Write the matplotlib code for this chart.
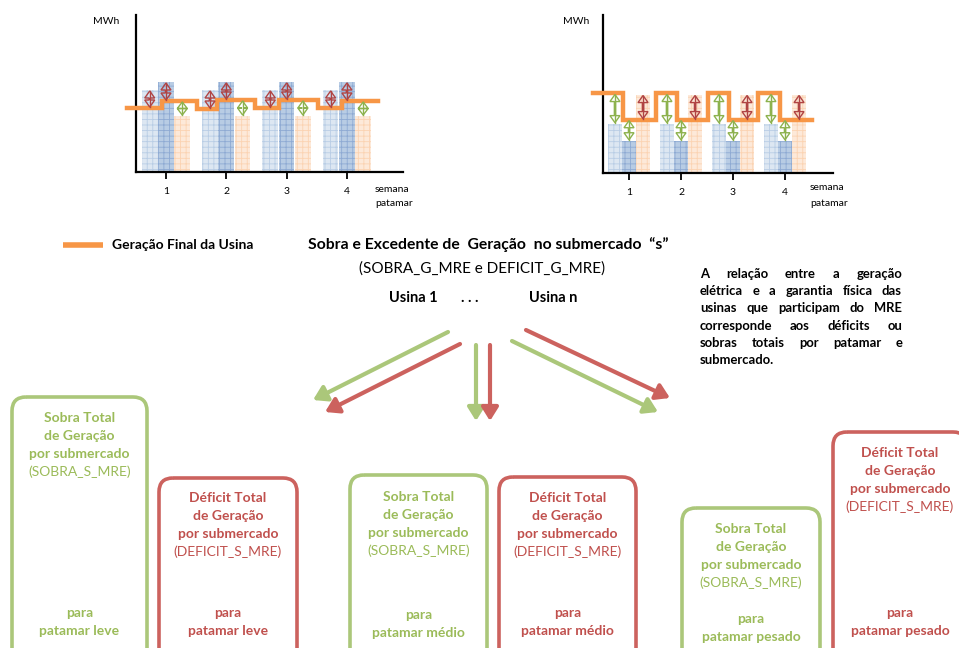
import matplotlib
matplotlib.use("Agg")
import matplotlib.pyplot as plt
from matplotlib.patches import FancyBboxPatch, FancyArrowPatch, Polygon

plt.rcParams["font.family"] = ["Lato", "DejaVu Sans"]
plt.rcParams["hatch.linewidth"] = 0.6

# ---------------------------------------------------------------------------
# Data (MWh axis in arbitrary units, 0 = x axis)
# ---------------------------------------------------------------------------
weeks = [1, 2, 3, 4]
week_labels = ["1", "2", "3", "4"]

# left chart: usina with generation above the physical guarantee
left_light = [82, 82, 82, 82]
left_dark = [90, 90, 90, 90]
left_orange = [56, 56, 56, 56]
left_line_first = [64, 63, 64, 64]      # level over the light bar
left_line_second = [71, 72, 72, 71]     # level over dark + orange bars
left_step_start = [-0.65, -0.48, -0.53, -0.48]
left_step_switch = [-0.07, -0.15, -0.13, -0.08]
left_step_end = [0.52, 0.47, 0.52, 0.52]

# right chart: usina with generation below the physical guarantee
right_light = [49, 49, 49, 49]
right_dark = [32, 32, 32, 32]
right_orange = [78, 78, 78, 78]
right_line_first = [79, 79, 79, 79]
right_line_second = [53, 53, 53, 53]
right_step_start = [-0.69, -0.48, -0.48, -0.52]
right_step_switch = [-0.12, -0.08, -0.08, -0.10]
right_step_end = [0.52, 0.52, 0.48, 0.52]

legend_label = "Geração Final da Usina"
title_line = "Sobra e Excedente de  Geração  no submercado  “s”"
subtitle_line = "(SOBRA_G_MRE e DEFICIT_G_MRE)"
usinas = ["Usina 1", ". . .", "Usina n"]

paragraph = [
    "A relação entre a geração",
    "elétrica e a garantia física das",
    "usinas que participam do MRE",
    "corresponde aos déficits ou",
    "sobras totais por patamar e",
    "submercado.",
]

box_kind = ["Sobra Total", "Déficit Total", "Sobra Total", "Déficit Total", "Sobra Total", "Déficit Total"]
box_code = ["(SOBRA_S_MRE)", "(DEFICIT_S_MRE)", "(SOBRA_S_MRE)", "(DEFICIT_S_MRE)", "(SOBRA_S_MRE)", "(DEFICIT_S_MRE)"]
box_patamar = ["patamar leve", "patamar leve", "patamar médio", "patamar médio", "patamar pesado", "patamar pesado"]

# ---------------------------------------------------------------------------
# Styles
# ---------------------------------------------------------------------------
ORANGE = "#f79646"
GREEN = "#9bbb59"
GREEN_BOX = "#abc77a"
RED = "#c0504d"
RED_BOX = "#cc625e"
ARR_RED = "#b04444"
ARR_GREEN = "#8db24e"
LIGHT = ("#dde7f2", "#b9cde5")
DARK = ("#b8cce4", "#8eaad3")
PEACH = ("#fde9d9", "#fbd3b2")

W, H = 959, 648
fig = plt.figure(figsize=(9.59, 6.48), dpi=100)
ov = fig.add_axes([0, 0, 1, 1])
ov.set_xlim(0, W)
ov.set_ylim(H, 0)
ov.axis("off")


def px_axes(x0, y0, x1, y1):
    return fig.add_axes([x0 / W, 1 - y1 / H, (x1 - x0) / W, (y1 - y0) / H])


def double_arrow(ax, x, y_a, y_b, color, ppu, hw_px=5, hl_px=7, inset=1):
    yt, yb = max(y_a, y_b) - inset, min(y_a, y_b) + inset
    hl = min(hl_px, (yt - yb) / 2)
    hw = hw_px / ppu
    sw = 0.6 / ppu
    pts = [(x, yt), (x + hw, yt - hl), (x + sw, yt - hl), (x + sw, yb + hl),
           (x + hw, yb + hl), (x, yb), (x - hw, yb + hl), (x - sw, yb + hl),
           (x - sw, yt - hl), (x - hw, yt - hl)]
    ax.add_patch(Polygon(pts, closed=True, fill=False, edgecolor=color, lw=1.0, zorder=5))
    ax.plot([x, x], [yb, yt], color=color, lw=1.0, zorder=5)


def draw_chart(ax, light, dark, orange, first, second, starts, switches, ends,
               ppu, arrow_colors):
    off = 0.27
    bw = 0.26
    ax.bar([w - off for w in weeks], light, bw, color=LIGHT[0], edgecolor=LIGHT[1], hatch="+++", lw=0, zorder=1)
    ax.bar(weeks, dark, bw, color=DARK[0], edgecolor=DARK[1], hatch="+++", lw=0, zorder=1)
    ax.bar([w + off for w in weeks], orange, bw, color=PEACH[0], edgecolor=PEACH[1], hatch="+++", lw=0, zorder=1)

    xs, ys = [], []
    for w, a, b, s, sw_, e in zip(weeks, first, second, starts, switches, ends):
        xs += [w + s, w + sw_, w + sw_, w + e]
        ys += [a, a, b, b]
    ax.plot(xs, ys, color=ORANGE, lw=3.2, solid_joinstyle="miter", clip_on=False, zorder=4)

    for i, w in enumerate(weeks):
        double_arrow(ax, w - off, light[i], first[i], arrow_colors[0], ppu)
        double_arrow(ax, w, dark[i], second[i], arrow_colors[1], ppu)
        double_arrow(ax, w + off, orange[i], second[i], arrow_colors[2], ppu)

    for side in ("top", "right"):
        ax.spines[side].set_visible(False)
    for side in ("left", "bottom"):
        ax.spines[side].set_linewidth(1.6)
    ax.set_yticks([])
    ax.set_xticks(weeks)
    ax.set_xticklabels(week_labels)
    ax.tick_params(axis="x", direction="out", length=5, width=1.3, labelsize=7.5, pad=6)
    ax.set_ylim(0, 157)
    ax.patch.set_alpha(0)


# left chart
axl = px_axes(136, 15, 403, 172)
axl.set_xlim(1 - 30 / 60.3, 1 + (403 - 166) / 60.3)
draw_chart(axl, left_light, left_dark, left_orange, left_line_first, left_line_second,
           left_step_start, left_step_switch, left_step_end, 60.3, (ARR_RED, ARR_RED, ARR_GREEN))

# right chart
axr = px_axes(603, 15, 833, 173)
axr.set_xlim(1 - 26 / 52, 1 + (833 - 629) / 52)
draw_chart(axr, right_light, right_dark, right_orange, right_line_first, right_line_second,
           right_step_start, right_step_switch, right_step_end, 52, (ARR_GREEN, ARR_GREEN, ARR_RED))

for x0, y0 in [(93, 22), (563, 22)]:
    ov.text(x0, y0, "MWh", fontsize=7.5, va="center", ha="left")
for x0, y0 in [(375, 189), (810, 188)]:
    ov.text(x0, y0, "semana", fontsize=7.5, va="center", ha="left")
    ov.text(x0, y0 + 15, "patamar", fontsize=7.5, va="center", ha="left")

# legend + titles
ov.plot([63, 103], [245, 245], color=ORANGE, lw=4, solid_capstyle="butt")
ov.text(112, 245, legend_label, fontsize=10, fontweight="bold", va="center", ha="left")
ov.text(488, 245, title_line, fontsize=11.3, fontweight="bold", va="center", ha="center")
ov.text(482, 269, subtitle_line, fontsize=11, va="center", ha="center")
for xc, label in zip([413, 470, 553], usinas):
    ov.text(xc, 298, label, fontsize=10.5, fontweight="bold", va="center", ha="center")

# justified paragraph
renderer = fig.canvas.get_renderer()
px0, px1, py0, pdy = 700, 902, 274, 17.2
for li, line in enumerate(paragraph):
    words = line.split()
    y = py0 + li * pdy
    texts = [ov.text(0, y, wd, fontsize=9.4, fontweight="bold", va="center", ha="left") for wd in words]
    widths = [t.get_window_extent(renderer).width for t in texts]
    if li == len(paragraph) - 1 or len(words) == 1:
        gap = 4
    else:
        gap = (px1 - px0 - sum(widths)) / (len(words) - 1)
    x = px0
    for t, wdt in zip(texts, widths):
        t.set_x(x)
        x += wdt + gap

# fan of arrows from the usinas to the totals
fan = [
    ((448, 332), (313, 400), GREEN_BOX),
    ((460, 344), (325, 412), RED_BOX),
    ((476, 345), (476, 421), GREEN_BOX),
    ((490, 345), (490, 421), RED_BOX),
    ((512, 341), (658, 412), GREEN_BOX),
    ((526, 330), (670, 398), RED_BOX),
]
for a, b, c in fan:
    ov.add_patch(FancyArrowPatch(a, b, arrowstyle="-|>,head_length=8,head_width=5",
                                 color=c, lw=3, shrinkA=0, shrinkB=0, mutation_scale=1))

# total boxes
box_rects = [(12, 397, 147), (159, 478, 297), (350, 475, 487),
             (499, 477, 636), (682, 508, 820), (833, 432, 967)]
box_first_y = [418, 498, 497, 498, 529, 453]
box_para_y = [613, 613, 615, 613, 619, 613]
for i, (x0, y0, x1) in enumerate(box_rects):
    is_green = box_kind[i].startswith("Sobra")
    edge = GREEN_BOX if is_green else RED_BOX
    tcol = GREEN if is_green else RED
    ov.add_patch(FancyBboxPatch((x0, y0), x1 - x0, 680 - y0,
                                boxstyle="round,pad=0,rounding_size=14",
                                fill=False, edgecolor=edge, lw=2.6))
    xc = (x0 + x1) / 2
    yy = box_first_y[i]
    lines = [(box_kind[i], "bold"), ("de Geração", "bold"), ("por submercado", "bold"), (box_code[i], "normal")]
    for k, (txt, fw) in enumerate(lines):
        ov.text(xc, yy + k * 17.8, txt, fontsize=10, fontweight=fw, color=tcol, va="center", ha="center")
    ov.text(xc, box_para_y[i], "para", fontsize=10, fontweight="bold", color=tcol, va="center", ha="center")
    ov.text(xc, box_para_y[i] + 18, box_patamar[i], fontsize=10, fontweight="bold", color=tcol, va="center", ha="center")

fig.savefig("out.png", dpi=100)
